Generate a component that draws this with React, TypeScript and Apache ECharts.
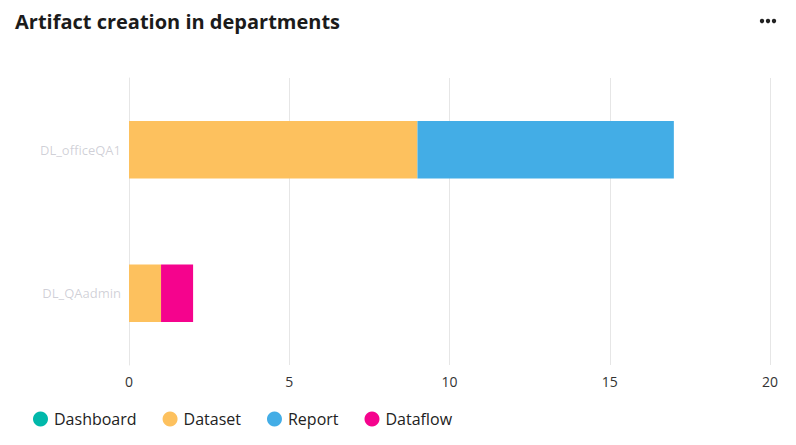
import React, { useEffect, useRef } from "react";
import * as echarts from "echarts";

const categories = ["DL_QAadmin", "DL_officeQA1"];
const seriesNames = ["Dashboard", "Dataset", "Report", "Dataflow"];
const dashboardValues = [0, 0];
const datasetValues = [1, 9];
const reportValues = [0, 8];
const dataflowValues = [1, 0];
const seriesColors = ["#01B8AA", "#FDC15E", "#43ADE6", "#F5038D"];
const xTicks = [0, 5, 10, 15, 20];

export default function App() {
  const ref = useRef<HTMLDivElement>(null);
  useEffect(() => {
    document.body.style.margin = "0";
    const chart = echarts.init(ref.current!, null, { renderer: "svg" });
    const values = [dashboardValues, datasetValues, reportValues, dataflowValues];
    chart.setOption({
      animation: false,
      textStyle: { fontFamily: "Open Sans" },
      title: {
        text: "Artifact creation in departments",
        left: 10,
        top: 6,
        textStyle: { fontSize: 20, fontWeight: "bold", color: "#1b1b1b", fontFamily: "Open Sans" },
      },
      graphic: [
        { type: "circle", shape: { cx: 762, cy: 21, r: 2.2 }, style: { fill: "#222" } },
        { type: "circle", shape: { cx: 768, cy: 21, r: 2.2 }, style: { fill: "#222" } },
        { type: "circle", shape: { cx: 774, cy: 21, r: 2.2 }, style: { fill: "#222" } },
      ],
      legend: {
        data: seriesNames,
        left: 28,
        top: 406,
        icon: "circle",
        itemWidth: 15,
        itemHeight: 15,
        itemGap: 26,
        textStyle: { fontSize: 16, color: "#222", fontFamily: "Open Sans", padding: [0, 0, 0, 1] },
      },
      grid: { left: 129, right: 26, top: 78, height: 287, containLabel: false },
      xAxis: {
        type: "value",
        min: 0,
        max: 20,
        interval: 5,
        axisLine: { show: false },
        axisTick: { show: false },
        splitLine: { lineStyle: { color: "#e6e6e6" } },
        axisLabel: {
          color: "#333",
          fontSize: 14,
          margin: 9,
          formatter: (v: number) => (xTicks.includes(v) ? String(v) : ""),
        },
      },
      yAxis: {
        type: "category",
        data: categories,
        axisLine: { show: true, lineStyle: { color: "#e6e6e6" } },
        axisTick: { show: false },
        axisLabel: {
          color: "rgba(120,120,140,0.35)",
          fontSize: 13,
          margin: 8,
        },
      },
      series: seriesNames.map((name, i) => ({
        name,
        type: "bar",
        stack: "total",
        barWidth: "40%",
        data: values[i],
        itemStyle: { color: seriesColors[i] },
      })),
    });
    return () => chart.dispose();
  }, []);
  return <div ref={ref} style={{ width: 796, height: 445 }} />;
}
